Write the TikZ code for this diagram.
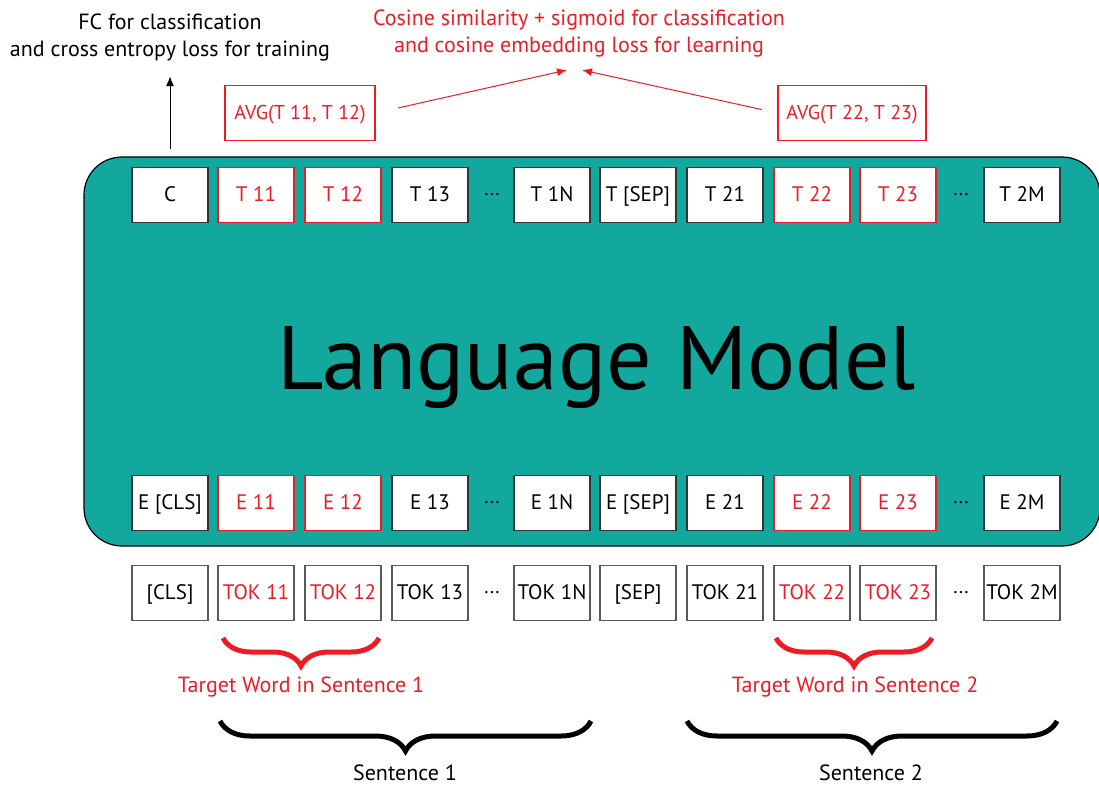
\documentclass[tikz,border=0pt]{standalone}
\usepackage{fontspec}
\setmainfont{PT Sans}
\usetikzlibrary{arrows.meta,decorations.pathreplacing}

\definecolor{lmteal}{RGB}{19,168,158}
\definecolor{hired}{RGB}{237,28,36}

\tikzset{
    tokbox/.style = {draw = black!80, fill = white, line width = 1.3pt, minimum width = 76pt,
        minimum height = 55pt, inner sep = 0pt, text height = 15pt, text depth = 3pt,
        font = \fontsize{21}{24}\selectfont},
    redbox/.style = {tokbox, draw = hired, text = hired},
    caption/.style = {font = \fontsize{22}{27}\selectfont, align = center},
    bigbrace/.style = {decorate, decoration = {brace, mirror, amplitude = 28pt}, line width = 5pt},
}

\begin{document}
\begin{tikzpicture}[x = 1pt, y = -1pt]
    \useasboundingbox (0,0) rectangle (1099,787);

    % the model
    \node[draw, fill = lmteal, line width = 1.2pt, rounded corners = 38pt, minimum width = 1016pt,
        minimum height = 389pt] (lm) at (592,351.5) {};
    \node[font = \fontsize{90}{92}\selectfont, inner sep = 0pt] (lmtxt) at (597,368) {Language Model};

    % output row
    \foreach \x/\id/\txt/\sty in {170/1/C/tokbox, 256/2/T 11/redbox, 343/3/T 12/redbox, 430/4/T 13/tokbox,
        552/5/T 1N/tokbox, 638/6/T [SEP]/tokbox, 725/7/T 21/tokbox, 812/8/T 22/redbox,
        898/9/T 23/redbox, 1022/10/T 2M/tokbox}
        \node[\sty] (t-\id) at (\x,195) {\txt};

    % embedding row
    \foreach \x/\id/\txt/\sty in {170/1/E [CLS]/tokbox, 256/2/E 11/redbox, 343/3/E 12/redbox, 430/4/E 13/tokbox,
        552/5/E 1N/tokbox, 638/6/E [SEP]/tokbox, 725/7/E 21/tokbox, 812/8/E 22/redbox,
        898/9/E 23/redbox, 1022/10/E 2M/tokbox}
        \node[\sty] (e-\id) at (\x,503) {\txt};

    % input tokens
    \foreach \x/\id/\txt/\sty in {170/1/[CLS]/tokbox, 256/2/TOK 11/redbox, 343/3/TOK 12/redbox, 430/4/TOK 13/tokbox,
        552/5/TOK 1N/tokbox, 638/6/[SEP]/tokbox, 725/7/TOK 21/tokbox, 812/8/TOK 22/redbox,
        898/9/TOK 23/redbox, 1022/10/TOK 2M/tokbox}
        \node[\sty, draw = black!65] (tok-\id) at (\x,593) {\txt};

    \foreach \y/\row in {195/t, 503/e, 593/tok} {
        \node[font = \fontsize{20}{24}\selectfont] (\row-dots1) at (492,\y) {...};
        \node[font = \fontsize{20}{24}\selectfont] (\row-dots2) at (961,\y) {...};
    }

    % heads
    \node[caption] (fc) at (170,37) {FC for classification\\and cross entropy loss for training};
    \draw[-{Latex[length = 10pt, width = 8pt]}, line width = 1pt, shorten > = 12pt]
        ([yshift = 7pt]t-1.north |- lm.north) -- (fc);

    \node[caption, text = hired] (cos) at (579,33) {Cosine similarity + sigmoid for classification\\and cosine embedding loss for learning};
    \coordinate (cosl) at (567,70);
    \coordinate (cosr) at (582,70);
    \node[redbox, minimum width = 150pt, font = \fontsize{20}{24}\selectfont] (avg1) at (300,113) {AVG(T 11, T 12)};
    \node[redbox, minimum width = 148pt, font = \fontsize{20}{24}\selectfont] (avg2) at (852,113) {AVG(T 22, T 23)};
    \draw[hired, line width = 1pt, -{Latex[length = 10pt, width = 8pt]}, shorten <= 23pt] (avg1.east) -- (cosl);
    \draw[hired, line width = 1pt, -{Latex[length = 10pt, width = 8pt]}, shorten <= 16pt] (avg2.west) -- (cosr);

    % braces
    \draw[bigbrace, hired] (223,638) -- (379,638);
    \draw[bigbrace, hired] (776,638) -- (932,638);
    \node[caption, text = hired] (tw1) at (301,687) {Target Word in Sentence 1};
    \node[caption, text = hired] (tw2) at (855,687) {Target Word in Sentence 2};

    \draw[bigbrace, decoration = {amplitude = 30pt}] (220,721) -- (591,721);
    \draw[bigbrace, decoration = {amplitude = 30pt}] (687,721) -- (1057,721);
    \node[caption, inner sep = 1pt] (s1) at (405,773) {Sentence 1};
    \node[caption, inner sep = 1pt] (s2) at (871,773) {Sentence 2};
\end{tikzpicture}
\end{document}
